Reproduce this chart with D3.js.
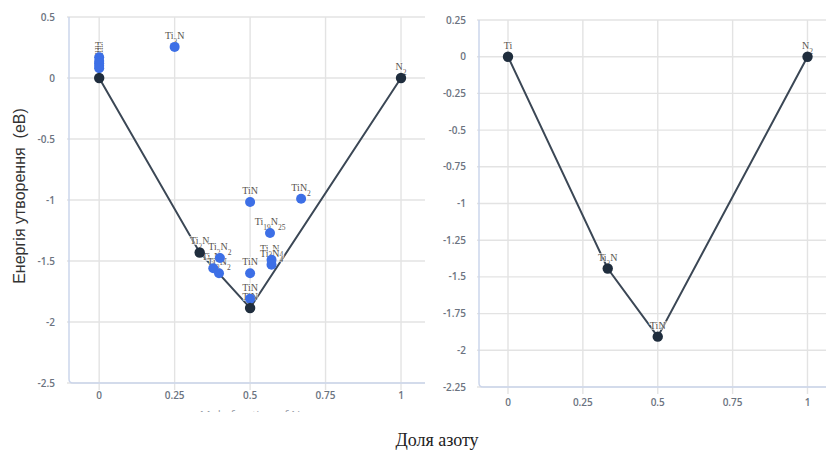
<!DOCTYPE html>
<html>
<head>
<meta charset="utf-8">
<script src="https://cdn.jsdelivr.net/npm/d3@7/dist/d3.min.js"></script>
<style>
  html, body { margin: 0; padding: 0; background: #fff; }
  svg { display: block; }
</style>
</head>
<body>
<svg id="chart" width="826" height="453"></svg>
<script>
// Shared x ticks (fraction of nitrogen)
const xTicks = [0, 0.25, 0.5, 0.75, 1];
const xTickLabels = ["0", "0.25", "0.5", "0.75", "1"];

// Left panel: all computed phases
const leftYTicks = [0.5, 0, -0.5, -1, -1.5, -2, -2.5];
const leftYTickLabels = ["0.5", "0", "-0.5", "-1", "-1.5", "-2", "-2.5"];
const hullLabels = ["Ti", "Ti2N", "TiN", "N2"];
const hullX = [0, 0.333, 0.5, 1];
const leftHullY = [0, -1.43, -1.885, 0];
const phaseLabels = ["Ti", "Ti", "Ti", "Ti", "Ti", "Ti3N", "TiN", "TiN2", "Ti19N25",
                     "Ti3N4", "Ti3N4", "TiN", "TiN", "Ti3N2", "Ti5N3", "Ti3N2"];
const phaseX = [0, 0, 0, 0, 0, 0.25, 0.5, 0.669, 0.566, 0.571, 0.571, 0.5, 0.5, 0.4, 0.378, 0.397];
const phaseY = [0.17, 0.14, 0.12, 0.1, 0.08, 0.255, -1.016, -0.99, -1.27, -1.49, -1.53, -1.6, -1.81, -1.475, -1.56, -1.6];

// Right panel: convex hull only
const rightYTicks = [0.25, 0, -0.25, -0.5, -0.75, -1, -1.25, -1.5, -1.75, -2, -2.25];
const rightYTickLabels = ["0.25", "0", "-0.25", "-0.5", "-0.75", "-1", "-1.25", "-1.5", "-1.75", "-2", "-2.25"];
const rightHullY = [0, -1.443, -1.907, 0];

const yTitle = "Енергія утворення  (еВ)";
const xTitle = "Доля азоту";
const xInnerTitle = "Mole fraction of N";

const svg = d3.select("#chart");

const GRID = "#e3e3e3";
const AXIS = "#ccd6eb";
const TICK_TEXT = "#6b7380";
const HULL_LINE = "#3b4755";
const HULL_DOT = "#1f2d3d";
const PHASE_DOT = "#3d6fe6";

// Writes a formula like "Ti19N25" with subscripted digits
function formula(sel, str) {
  const parts = str.match(/[A-Za-z]+|\d+/g);
  parts.forEach(p => {
    if (/^\d+$/.test(p)) {
      sel.append("tspan").attr("font-size", 7.5).attr("baseline-shift", "sub").text(p);
    } else {
      sel.append("tspan").text(p);
    }
  });
}

function panel(opts) {
  const g = svg.append("g");
  const x = d3.scaleLinear().domain(opts.xDomain).range([opts.left, opts.right]);
  const y = d3.scaleLinear().domain(opts.yDomain).range([opts.bottom, opts.top]);

  // horizontal grid
  g.append("g").selectAll("line").data(opts.yTicks).join("line")
    .attr("x1", opts.left - 2).attr("x2", opts.right)
    .attr("y1", d => y(d)).attr("y2", d => y(d))
    .attr("stroke", GRID).attr("stroke-width", 1.4);

  // vertical grid with tick extension
  g.append("g").selectAll("line").data(xTicks).join("line")
    .attr("x1", d => x(d)).attr("x2", d => x(d))
    .attr("y1", opts.top).attr("y2", opts.bottom + 7)
    .attr("stroke", GRID).attr("stroke-width", 1.4);

  // axis border (left and bottom, rounded corner)
  const r = 4;
  g.append("path")
    .attr("d", `M${opts.left},${opts.top} V${opts.bottom - r} Q${opts.left},${opts.bottom} ${opts.left + r},${opts.bottom} H${opts.right}`)
    .attr("fill", "none").attr("stroke", AXIS).attr("stroke-width", 1.5);

  // y tick labels
  g.append("g").selectAll("text").data(opts.yTicks).join("text")
    .attr("x", opts.yLabelX).attr("y", d => y(d)).attr("dy", "0.35em")
    .attr("text-anchor", "end")
    .attr("font-family", "'Open Sans', sans-serif").attr("font-weight", 600)
    .attr("font-size", 10).attr("fill", TICK_TEXT)
    .text((d, i) => opts.yTickLabels[i]);

  // x tick labels
  g.append("g").selectAll("text").data(xTicks).join("text")
    .attr("x", d => x(d)).attr("y", opts.xLabelY)
    .attr("text-anchor", "middle")
    .attr("font-family", "'Open Sans', sans-serif").attr("font-weight", 600)
    .attr("font-size", 10).attr("fill", TICK_TEXT)
    .text((d, i) => xTickLabels[i]);

  // hull line
  const hull = hullX.map((v, i) => ({ x: v, y: opts.hullY[i], label: hullLabels[i] }));
  g.append("path").datum(hull)
    .attr("d", d3.line().x(d => x(d.x)).y(d => y(d.y)))
    .attr("fill", "none").attr("stroke", HULL_LINE).attr("stroke-width", 2);

  const phases = (opts.phases || []);

  // data labels sit beneath the markers
  const labels = g.append("g")
    .attr("font-family", "'Liberation Serif', 'Times New Roman', serif")
    .attr("font-size", 10).attr("fill", "#5a5550")
    .attr("stroke", "#fff").attr("stroke-width", 2).attr("stroke-opacity", 0.6)
    .attr("paint-order", "stroke").attr("text-anchor", "middle");
  hull.concat(phases).forEach(d => {
    const t = labels.append("text").attr("x", x(d.x)).attr("y", y(d.y) - 8);
    formula(t, d.label);
  });

  g.append("g").selectAll("circle").data(phases).join("circle")
    .attr("cx", d => x(d.x)).attr("cy", d => y(d.y)).attr("r", 5)
    .attr("fill", PHASE_DOT);

  g.append("g").selectAll("circle").data(hull).join("circle")
    .attr("cx", d => x(d.x)).attr("cy", d => y(d.y)).attr("r", 5.2)
    .attr("fill", HULL_DOT);

  return { x, y };
}

const leftPhases = phaseX.map((v, i) => ({ x: v, y: phaseY[i], label: phaseLabels[i] }));

panel({
  left: 69, right: 425, top: 17, bottom: 383,
  xDomain: [-0.1, (425 - 99) / 302],
  yDomain: [-2.5, 0.5],
  yTicks: leftYTicks, yTickLabels: leftYTickLabels,
  yLabelX: 55, xLabelY: 399,
  hullY: leftHullY, phases: leftPhases
});

panel({
  left: 479, right: 826, top: 20, bottom: 387,
  xDomain: [-0.0968, (826 - 508) / 299.5],
  yDomain: [-2.25, 0.25],
  yTicks: rightYTicks, yTickLabels: rightYTickLabels,
  yLabelX: 466, xLabelY: 406,
  hullY: rightHullY, phases: []
});

// faint, mostly hidden axis caption under the left panel
svg.append("clipPath").attr("id", "capClip")
  .append("rect").attr("x", 150).attr("y", 400).attr("width", 200).attr("height", 12);
svg.append("text")
  .attr("clip-path", "url(#capClip)")
  .attr("x", 250).attr("y", 420).attr("text-anchor", "middle")
  .attr("font-family", "'Open Sans', sans-serif").attr("font-size", 12)
  .attr("fill", "#9aa0a8").text(xInnerTitle);

// y title
svg.append("text")
  .attr("transform", "translate(25,196) rotate(-90)")
  .attr("text-anchor", "middle")
  .style("white-space", "pre")
  .attr("font-family", "'Liberation Sans', Arial, sans-serif")
  .attr("font-size", 16).attr("fill", "#333")
  .text(yTitle);

// shared x title
svg.append("text")
  .attr("x", 437).attr("y", 446).attr("text-anchor", "middle")
  .attr("font-family", "'Liberation Serif', 'Times New Roman', serif")
  .attr("font-size", 18).attr("fill", "#222")
  .text(xTitle);
</script>
</body>
</html>
